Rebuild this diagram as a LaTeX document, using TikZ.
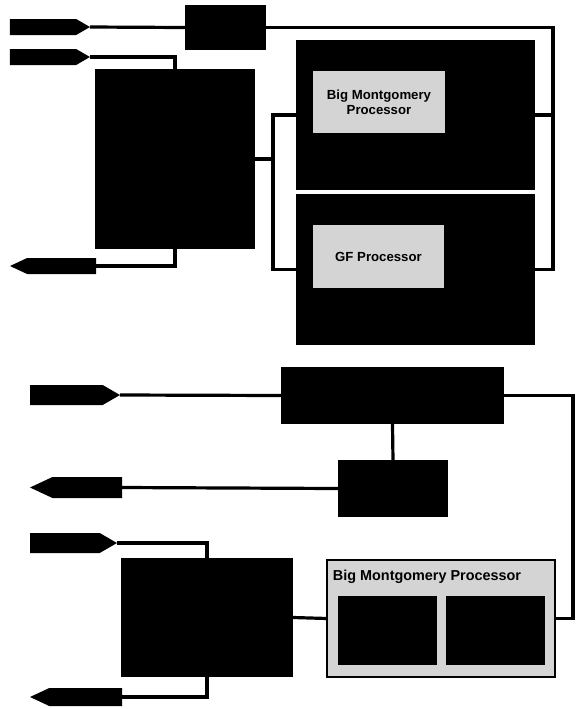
\documentclass[tikz,border=0pt]{standalone}
\usepackage{fontspec}
\newfontfamily\procfont{Liberation Sans}
\usetikzlibrary{shapes.symbols}

\begin{document}
\begin{tikzpicture}[x=0.5pt,y=-0.5pt,line width=1.6pt]
\tikzstyle{every node}+=[inner sep=0pt,outer sep=0pt]
\tikzstyle{blk}=[draw=none,fill=black,rectangle]
\tikzstyle{proc}=[fill=black!17,rectangle,font=\procfont\bfseries\fontsize{6.6}{7.6}\selectfont,align=center]
\tikzstyle{pinin}=[fill=black,signal,signal to=east,signal pointer angle=60,minimum height=8pt,anchor=west]
\tikzstyle{pinout}=[fill=black,signal,signal to=west,signal pointer angle=50,minimum height=8pt,anchor=east]
\useasboundingbox (0,0) rectangle (576,709);
% upper part
\node [pinin,minimum width=40pt] (inA) at (10,27) {};
\node [pinin,minimum width=40pt] (inB) at (10,57) {};
\node [pinout,minimum width=43pt] (outA) at (96,266) {};
\node [blk,minimum width=40.5pt,minimum height=22.5pt] (ctlA) at (225.5,27.5) {};
\node [blk,minimum width=80pt,minimum height=90pt] (hostA) at (175,159) {};
\node [blk,minimum width=119.5pt,minimum height=75pt] (unitA) at (415.5,115) {};
\node [blk,minimum width=119.5pt,minimum height=75.5pt] (unitB) at (415.5,269.5) {};
\node [proc,minimum width=66pt,minimum height=31pt] (bigmont) at (379,102) {Big Montgomery\\Processor};
\node [proc,minimum width=65.5pt,minimum height=31.5pt] (gfproc) at (378.5,256.5) {GF Processor};
\coordinate (busA) at (553,27.5);
\coordinate (splitA) at (273,159);
\draw (inA.east) -- (ctlA.west);
\draw (ctlA.east) -- (busA) |- (unitB.east);
\draw (unitA.east) -- (unitA.east -| busA);
\draw (inB.east) -| (hostA.north);
\draw (outA.east) -| (hostA.south);
\draw (hostA.east) -- (splitA);
\draw (unitA.west) -| (splitA) |- (unitB.west);
% lower part
\node [pinin,minimum width=45pt,minimum height=10pt] (inC) at (30,395) {};
\node [pinout,minimum width=46pt,minimum height=10.5pt] (outC) at (122,487.5) {};
\node [pinin,minimum width=43.5pt,minimum height=10pt] (inD) at (30,543) {};
\node [pinout,minimum width=46pt,minimum height=9pt] (outD) at (122,697) {};
\node [blk,minimum width=111.5pt,minimum height=28.5pt] (wideC) at (392.5,395.5) {};
\node [blk,minimum width=55pt,minimum height=28.5pt] (ctlC) at (393,488.5) {};
\node [blk,minimum width=86pt,minimum height=59.5pt] (hostC) at (207,617.5) {};
\node [proc,draw=black,line width=0.6pt,minimum width=114pt,minimum height=58.5pt] (bigmontC) at (441,618.5) {};
\node [anchor=west,font=\procfont\bfseries\fontsize{7.2}{8}\selectfont] (bmlabel) at (333,577) {Big Montgomery Processor};
\node [blk,minimum width=49.5pt,minimum height=34.5pt] (coreL) at (387.5,630.5) {};
\node [blk,minimum width=49.5pt,minimum height=34.5pt] (coreR) at (495.5,630.5) {};
\coordinate (busC) at (573,395.5);
\draw (inC.east) -- (wideC.west);
\draw (wideC.east) -- (busC) |- (bigmontC.east);
\draw (wideC.south) -- (ctlC.north);
\draw (ctlC.west) -- (outC.east);
\draw (inD.east) -| (hostC.north);
\draw (outD.east) -| (hostC.south);
\draw (hostC.east) -- (bigmontC.west);
\end{tikzpicture}
\end{document}
